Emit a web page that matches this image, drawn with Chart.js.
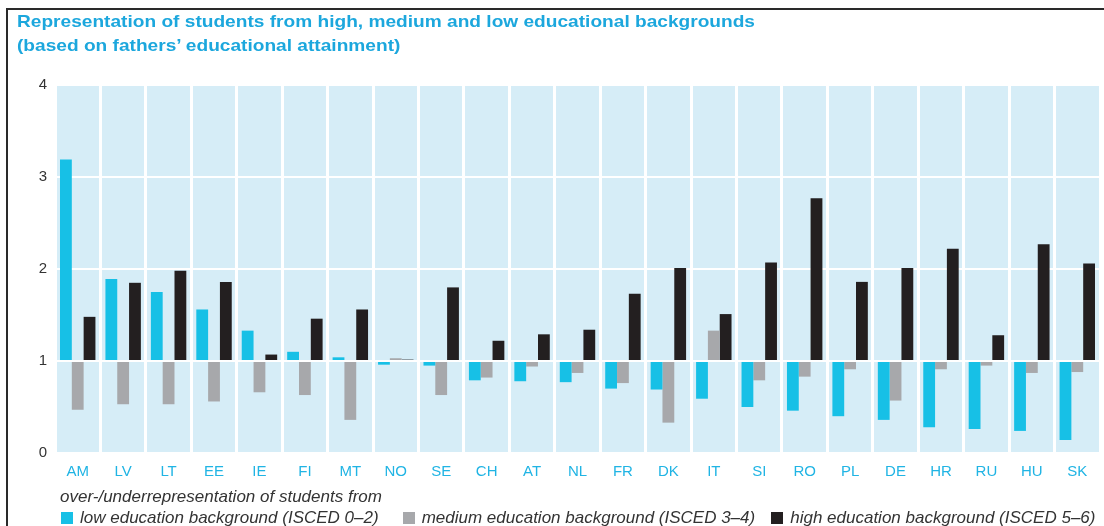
<!DOCTYPE html>
<html>
<head>
<meta charset="utf-8">
<script src="https://cdn.jsdelivr.net/npm/chart.js@4/dist/chart.umd.min.js"></script>
<style>
  html, body { margin: 0; padding: 0; background: #fff; }
  #wrap { position: relative; width: 1104px; height: 526px; overflow: hidden; font-family: "Liberation Sans", Arial, sans-serif; }
  #frame { position: absolute; left: 6px; top: 8px; right: -5px; bottom: -5px; border-left: 2px solid #2a2a2a; border-top: 2px solid #2a2a2a; }
  #chartBox { position: absolute; left: 0; top: 0; }
  #title { position: absolute; left: 17px; top: 10px; color: #1ca7dd; font-family: "Liberation Sans", Arial, sans-serif;
           font-weight: bold; font-size: 17px; line-height: 24px; white-space: nowrap; transform-origin: 0 0; }
  #title span { display: inline-block; }
  #legend { position: absolute; left: 60px; top: 486px; color: #333; font-style: italic; font-size: 17px; line-height: 21px; white-space: nowrap; }
  #legend .row { display: flex; align-items: center; }
  #legend .item { display: flex; align-items: center; }
  #legend .item:nth-child(1) { margin-right: 23px; }
  #legend .item:nth-child(2) { margin-right: 15px; }
  #legend .box { width: 12px; height: 12px; margin-left: 1px; margin-right: 7px; }
</style>
</head>
<body>
<div id="wrap">
  <div id="chartBox"><canvas id="eduChart" width="1104" height="526"></canvas></div>
  <div id="frame"></div>
  <div id="title"><span id="t1">Representation of students from high, medium and low educational backgrounds</span><br><span id="t2">(based on fathers’ educational attainment)</span></div>
  <div id="legend">
    <div>over-/underrepresentation of students from</div>
    <div class="row" id="legendItems"></div>
  </div>
</div>
<script>
// data (ratio, 1 = proportional representation)
var countries = ['AM','LV','LT','EE','IE','FI','MT','NO','SE','CH','AT','NL','FR','DK','IT','SI','RO','PL','DE','HR','RU','HU','SK'];
var lowEdu    = [3.19,1.89,1.75,1.56,1.33,1.10,1.04,0.96,0.95,0.79,0.78,0.77,0.70,0.69,0.59,0.50,0.46,0.40,0.36,0.28,0.26,0.24,0.14];
var mediumEdu = [0.47,0.53,0.53,0.56,0.66,0.63,0.36,1.03,0.63,0.82,0.94,0.87,0.76,0.33,1.33,0.79,0.83,0.91,0.57,0.91,0.95,0.87,0.88];
var highEdu   = [1.48,1.85,1.98,1.86,1.07,1.46,1.56,1.015,1.80,1.22,1.29,1.34,1.73,2.01,1.51,2.07,2.77,1.86,2.01,2.22,1.28,2.27,2.06];
var yTicks = [0,1,2,3,4];
var seriesNames = ['low education background (ISCED 0–2)', 'medium education background (ISCED 3–4)', 'high education background (ISCED 5–6)'];
var seriesColors = ['#17c0e6', '#a7a8ab', '#231f20'];

// fit the title to the width it has in the original
var t1 = document.getElementById('t1');
var sx = 738 / t1.getBoundingClientRect().width;
document.getElementById('title').style.transform = 'scaleX(' + sx + ')';

// light blue plot background
var plotBg = {
  id: 'plotBg',
  beforeDraw: function(chart) {
    var a = chart.chartArea, c = chart.ctx;
    c.save();
    c.fillStyle = '#d6edf7';
    c.fillRect(a.left, a.top, a.right - a.left, a.bottom - a.top);
    c.restore();
  }
};

Chart.defaults.font.family = '"Liberation Sans", Arial, sans-serif';

var series = [lowEdu, mediumEdu, highEdu];
var ctx = document.getElementById('eduChart').getContext('2d');
var eduChart = new Chart(ctx, {
  type: 'bar',
  data: {
    labels: countries,
    datasets: series.map(function(vals, i) {
      return { label: seriesNames[i], data: vals, base: 1, backgroundColor: seriesColors[i], borderWidth: 0,
               categoryPercentage: 0.78, barPercentage: 1 };
    })
  },
  options: {
    responsive: false,
    animation: false,
    layout: { padding: { left: 35, right: 4, top: 85, bottom: 43 } },
    plugins: { legend: { display: false }, tooltip: { enabled: false } },
    scales: {
      x: {
        grid: { color: '#ffffff', lineWidth: 3, drawTicks: false },
        border: { display: false },
        ticks: { color: '#20b4e4', font: { size: 15 }, padding: 10, autoSkip: false, maxRotation: 0 },
        afterFit: function(s) { s.height = 30; }
      },
      y: {
        min: yTicks[0], max: yTicks[yTicks.length - 1],
        grid: { color: '#ffffff', lineWidth: 2, drawTicks: false },
        border: { display: false },
        ticks: { stepSize: 1, color: '#333333', font: { size: 15 }, padding: 8 },
        afterFit: function(s) { s.width = 20; }
      }
    }
  },
  plugins: [plotBg]
});

// html legend built from the chart's datasets
var holder = document.getElementById('legendItems');
eduChart.data.datasets.forEach(function(ds) {
  var item = document.createElement('div');
  item.className = 'item';
  var box = document.createElement('span');
  box.className = 'box';
  box.style.background = ds.backgroundColor;
  item.appendChild(box);
  item.appendChild(document.createTextNode(ds.label));
  holder.appendChild(item);
});
</script>
</body>
</html>
